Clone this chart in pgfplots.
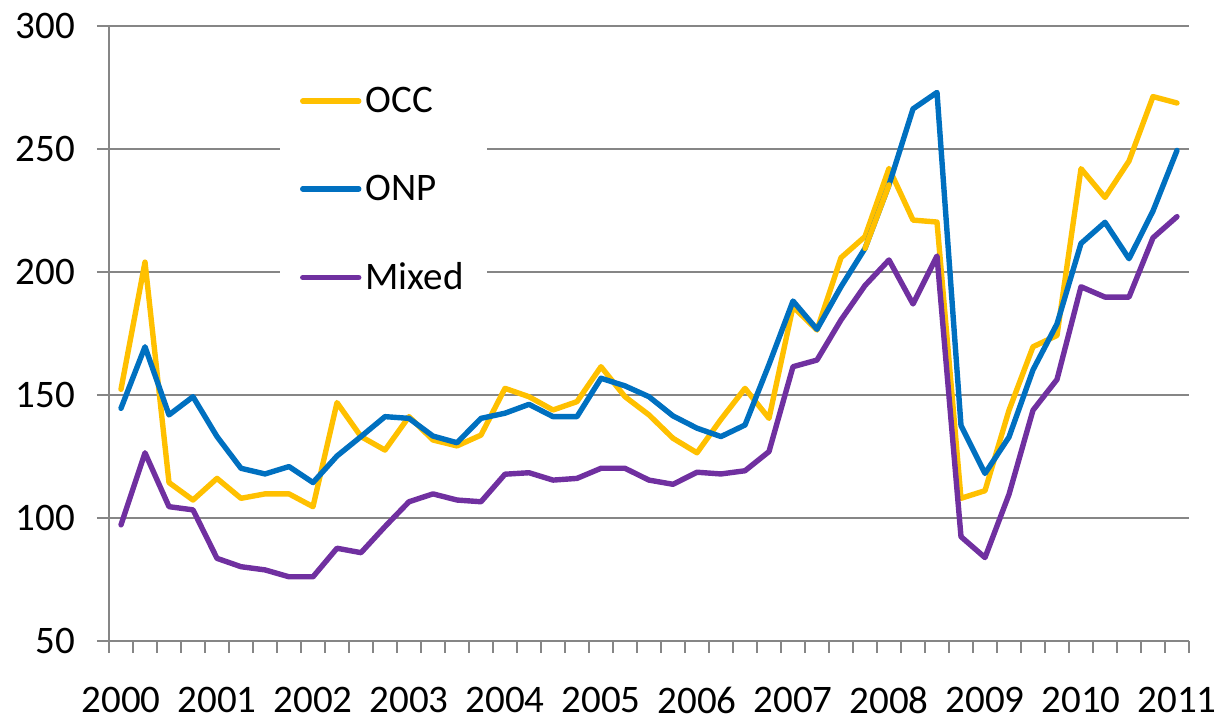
\documentclass[border=0pt]{standalone}
\usepackage{pgfplots}
\pgfplotsset{compat=1.18}
\usepackage{pgfplotstable}
\usepackage{fontspec}
\setmainfont{Carlito}

\definecolor{occ}{HTML}{FFC000}
\definecolor{onp}{HTML}{0070C0}
\definecolor{mix}{HTML}{7030A0}
\definecolor{axgray}{HTML}{868686}

% quarterly index, 2000Q1 = 0 ... 2011Q1 = 44
\pgfplotstableread{
q  occ    onp    mix
0  152.3  144.6  97.2
1  204.0  169.6  126.5
2  114.4  141.9  104.6
3  107.3  149.3  103.3
4  116.1  133.1  83.6
5  108.0  120.2  80.2
6  109.8  117.9  78.9
7  109.8  120.9  76.1
8  104.6  114.4  76.1
9  146.9  125.2  87.7
10 133.1  133.1  85.9
11 127.6  141.2  96.5
12 141.2  140.5  106.6
13 131.7  133.3  109.8
14 129.3  130.6  107.3
15 133.7  140.5  106.6
16 152.7  142.6  117.8
17 149.3  146.2  118.4
18 143.9  141.2  115.4
19 147.3  141.2  116.1
20 161.5  156.8  120.2
21 149.3  153.7  120.2
22 141.9  149.3  115.4
23 132.4  141.5  113.7
24 126.5  136.5  118.6
25 140.1  133.1  117.9
26 152.7  137.8  119.2
27 140.5  162.4  127.0
28 185.9  188.2  161.5
29 176.4  176.7  164.2
30 205.8  194.0  180.5
31 214.4  209.6  194.5
32 242.1  235.4  204.9
33 221.1  266.3  187.0
34 220.3  273.0  206.5
35 108.0  137.6  92.4
36 111.1  118.1  83.9
37 143.8  132.9  109.6
38 169.6  160.2  143.8
39 174.2  178.9  156.3
40 242.0  211.6  194.0
41 230.3  220.2  189.8
42 245.1  205.4  189.8
43 271.3  224.8  213.9
44 268.7  249.4  222.5
}\prices

\begin{document}
\begin{tikzpicture}
\path[use as bounding box] (-54.5pt,-40pt) rectangle (557pt,320.5pt);
\begin{axis}[
  at={(0pt,0pt)}, anchor=south west,
  width=540pt, height=307.5pt, scale only axis,
  xmin=-0.5, xmax=44.5, ymin=50, ymax=300,
  ytick={50,100,...,300},
  xtick={0,4,...,44},
  xticklabels={2000,2001,2002,2003,2004,2005,2006,2007,2008,2009,2010,2011},
  minor xtick={-0.5,0.5,...,44.5},
  axis x line*=bottom, axis y line*=left,
  axis line style={axgray, line width=1pt, -},
  ymajorgrids, grid style={axgray, line width=1pt},
  major tick length=6pt, minor tick length=6pt,
  tick align=outside,
  major x tick style={draw=none},
  minor x tick style={axgray, line width=1pt},
  ytick style={axgray, line width=1pt},
  ticklabel style={font=\fontsize{19.5}{23}\selectfont},
  xticklabel style={yshift=-13.5pt},
  yticklabel style={xshift=-7.5pt},
  /pgf/number format/assume math mode=true,
  no markers,
  every axis plot/.append style={line width=2.7pt, line join=round, line cap=round},
  legend style={at={(0.158,0.934)}, anchor=north west, draw=none, fill=white,
    font=\fontsize{19.5}{23}\selectfont, row sep=25.75pt, inner xsep=10pt, inner ysep=8pt},
  legend cell align=left,
  legend image code/.code={\draw[#1] (0pt,0pt) -- (28pt,0pt);},
]
\addplot[occ] table[x=q, y=occ] {\prices};
\addplot[onp] table[x=q, y=onp] {\prices};
\addplot[mix] table[x=q, y=mix] {\prices};
\addplot[occ, forget plot] coordinates {(31,209.6) (32,235.4)};
\legend{OCC, ONP, Mixed}
\end{axis}
\end{tikzpicture}
\end{document}
